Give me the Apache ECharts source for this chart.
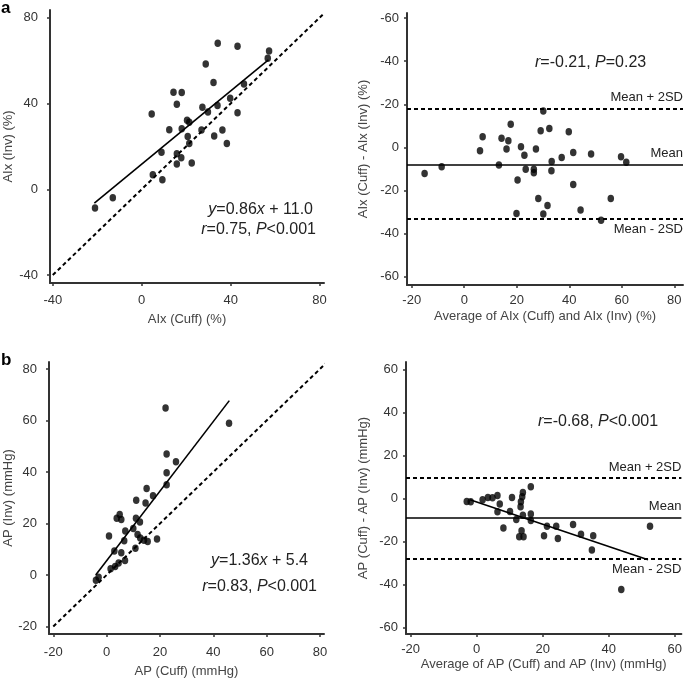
<!DOCTYPE html>
<html>
<head>
<meta charset="utf-8">
<script src="https://cdn.jsdelivr.net/npm/echarts@6/dist/echarts.min.js"></script>
<style>
html,body{margin:0;padding:0;background:#fff;}
#c{width:685px;height:679px;}
</style>
</head>
<body>
<div id="c"></div>
<script>
// ---- Data ----
const aixCuff = [-21,-13,4.5,5.0,9.3,8.9,12.4,14.3,15.8,18.0,15.8,15.8,17.8,18.0,20.4,21.4,20.7,21.4,22.5,26.9,27.3,28.8,29.8,32.3,32.6,34.2,34.1,36.3,38.3,39.8,43.1,43.1,46.0,56.7,57.3];
const aixInv  = [-8.7,-3.9,35.1,6.8,4.4,17.3,27.8,45.3,39.6,45.1,16.6,11.8,14.7,28.2,32.2,31.2,24.6,21.4,12.3,27.6,38.2,58.4,36.0,49.8,24.8,68.1,39.1,27.6,21.3,42.4,66.7,35.7,49.1,61.1,64.5];

const aixAvg  = [-15.1,-8.6,6.0,7.0,13.2,14.2,16.8,16.1,17.7,19.9,20.3,21.6,22.9,23.4,26.5,26.5,27.3,28.2,29.1,30.1,30.1,31.7,32.4,33.2,33.3,37.1,39.8,41.5,41.5,44.3,48.3,52.1,55.8,59.7,61.7];
const aixDiff = [-12.1,-9.0,-1.6,4.9,-8.2,4.2,3.1,-0.8,10.8,-30.7,-15.2,0.3,-3.6,-10.2,-10.2,-11.8,-0.8,-23.7,7.7,16.9,-30.9,-27.0,8.8,-10.8,-6.5,-4.7,7.3,-2.4,-17.2,-29.1,-3.1,-33.8,-23.7,-4.3,-6.9];

const apCuff = [-4.0,-3.0,0.9,1.5,2.9,3.2,3.8,4.5,4.9,5.5,5.5,6.6,7.0,6.9,10.0,10.8,11.1,11.0,11.6,12.5,12.6,14.0,14.6,15.0,15.4,17.4,18.9,22.1,22.5,22.5,22.5,26.0,45.9];
const apInv  = [-2.0,-0.9,15.1,2.4,9.3,3.3,22.0,4.7,23.5,21.6,8.6,13.3,17.1,5.6,18.1,10.4,29.0,22.0,15.7,20.6,14.4,13.5,28.0,33.6,13.0,30.8,14.0,64.8,47.0,39.7,35.0,44.0,58.9];

const apAvg  = [-3.0,-1.8,1.8,3.4,4.8,6.3,7.0,6.3,8.1,10.1,10.7,12.0,12.9,13.3,13.4,13.6,13.8,14.0,14.2,14.0,16.4,16.4,16.4,20.4,21.3,24.1,24.6,29.2,31.6,35.3,34.9,43.8,52.5];
const apDiff = [-1.4,-1.6,-0.6,0.4,0.3,1.4,-2.6,-6.2,-13.7,-6.1,0.4,-9.8,-17.8,-3.9,-1.6,-15.0,0.8,2.8,-17.8,-7.8,5.4,-7.2,-10.3,-17.4,-12.9,-12.9,-18.6,-12.1,-16.7,-17.3,-24.0,-42.3,-12.9];

// fitted / reference lines (end points)
const aixFitLine = [[-21.3,-6.5],[57,60.3]];
const aixIdentity = [[-40,-40],[82,82]];
const apFitLine = [[-4.1,0],[46,67.7]];
const apIdentity = [[-20,-20],[82.2,82.2]];
const apDiffFitLine = [[-2,-0.6],[51.9,-28.5]];

// Bland–Altman limits: [mean+2SD, mean, mean-2SD]
const aixLimits = [18.1,-7.9,-33.3];
const apLimits = [9.4,-8.8,-28.0];

// tick values
const ticksA = [-40,0,40,80];
const ticksBAx = [-20,0,20,40,60,80];
const ticksBAy = [-60,-40,-20,0,20,40,60];
const ticksCx = [-20,0,20,40,60,80];
const ticksCy = [-20,0,20,40,60,80];
const ticksDx = [-20,0,20,40,60];

// ---- Chart ----
const FONT = 'Liberation Sans, Arial, sans-serif';
const axisCol = '#333';
function zip(a,b){ return a.map((v,i)=>[v,b[i]]); }

function xAx(grid, min, max, ticks, name, gap, margin){
  return {
    type:'value', gridIndex:grid, min:min, max:max,
    name:name, nameLocation:'middle', nameGap:gap, nameMoveOverlap:false,
    nameTextStyle:{fontFamily:FONT,fontSize:13,color:'#444'},
    axisLine:{show:true,onZero:false,lineStyle:{color:axisCol,width:2}},
    axisTick:{show:true,inside:false,length:3,customValues:ticks,lineStyle:{color:axisCol,width:1.5}},
    axisLabel:{customValues:ticks,fontFamily:FONT,fontSize:13,color:'#333',margin:margin},
    splitLine:{show:false}
  };
}
function yAx(grid, min, max, ticks, name, gap, margin, fmt){
  return {
    type:'value', gridIndex:grid, min:min, max:max,
    name:name, nameLocation:'middle', nameGap:gap, nameRotate:90, nameMoveOverlap:false,
    nameTextStyle:{fontFamily:FONT,fontSize:13,color:'#444'},
    axisLine:{show:true,onZero:false,lineStyle:{color:axisCol,width:2}},
    axisTick:{show:true,inside:false,length:3,customValues:ticks,lineStyle:{color:axisCol,width:1.5}},
    axisLabel:{customValues:ticks,fontFamily:FONT,fontSize:13,color:'#333',margin:margin,formatter:fmt},
    splitLine:{show:false}
  };
}
function scatter(i, data){
  return {type:'scatter',xAxisIndex:i,yAxisIndex:i,data:data,symbol:'circle',symbolSize:[6.5,7.5],
    itemStyle:{color:'#000'},silent:true,z:5};
}
function line(i, data, dashed){
  return {type:'line',xAxisIndex:i,yAxisIndex:i,data:data,symbol:'none',clip:false,silent:true,
    lineStyle:{color:'#000',width:dashed?2:1.6,type:dashed?[4,3]:'solid'},z:3};
}
function limits(i, vals){
  const lbl = {fontFamily:FONT,fontSize:13,color:'#222',distance:[0,4]};
  return {type:'line',xAxisIndex:i,yAxisIndex:i,data:[],silent:true,
    markLine:{symbol:'none',silent:true,animation:false,
      data:[
        {yAxis:vals[0],lineStyle:{type:[4,3],width:2,color:'#000'},label:Object.assign({position:'insideEndTop',formatter:'Mean + 2SD'},lbl)},
        {yAxis:vals[1],lineStyle:{type:'solid',width:1.6,color:'#000'},label:Object.assign({position:'insideEndTop',formatter:'Mean'},lbl)},
        {yAxis:vals[2],lineStyle:{type:[4,3],width:2,color:'#000'},label:Object.assign({position:'insideEndBottom',formatter:'Mean - 2SD'},lbl)}
      ]}};
}
const negFmt = v => (v===0?'0':'-'+Math.abs(v));

const chart = echarts.init(document.getElementById('c'), null, {renderer:'canvas'});
const ann = (x,y,rt,align) => ({type:'text',x:x,y:y,silent:true,
  style:{text:rt,x:0,y:0,align:align||'left',verticalAlign:'middle',fontFamily:FONT,fontSize:16,fill:'#222',
    rich:{i:{fontStyle:'italic',fontFamily:FONT,fontSize:16,fill:'#222'},n:{fontFamily:FONT,fontSize:16,fill:'#222'}}}});

chart.setOption({
  animation:false,
  backgroundColor:'#fff',
  grid:[
    {left:50,top:10,width:274,height:273},
    {left:407,top:13,width:276,height:272},
    {left:49,top:362,width:275,height:272},
    {left:406,top:362,width:277,height:272}
  ],
  xAxis:[
    xAx(0,-41.25,82,ticksA,'AIx (Cuff) (%)',30,11),
    xAx(1,-21.8,83.3,ticksBAx,'Average of AIx (Cuff) and AIx (Inv) (%)',25,9),
    xAx(2,-21.6,81.5,ticksCx,'AP (Cuff) (mmHg)',31,12),
    xAx(3,-21.4,62,ticksDx,'Average of AP (Cuff) and AP (Inv) (mmHg)',24,9)
  ],
  yAxis:[
    yAx(0,-43.7,83.6,ticksA,'AIx (Inv) (%)',35,12),
    yAx(1,-63.9,62.4,ticksBAy,'AIx (Cuff) - AIx (Inv) (%)',37,8,negFmt),
    yAx(2,-22.9,82.7,ticksCy,'AP (Inv) (mmHg)',34,12),
    yAx(3,-63,63.4,ticksBAy,'AP (Cuff) - AP (Inv) (mmHg)',36,8)
  ],
  graphic:[
    {type:'text',x:1,y:0,silent:true,style:{text:'a',fontFamily:FONT,fontSize:17,fontWeight:'bold',fill:'#000'}},
    {type:'text',x:1,y:352,silent:true,style:{text:'b',fontFamily:FONT,fontSize:17,fontWeight:'bold',fill:'#000'}},
    ann(313,210,'{i|y}{n|=0.86}{i|x}{n| + 11.0}','right'),
    ann(316,230,'{i|r}{n|=0.75, }{i|P}{n|<0.001}','right'),
    ann(535,63,'{i|r}{n|=-0.21, }{i|P}{n|=0.23}','left'),
    ann(308,561,'{i|y}{n|=1.36}{i|x}{n| + 5.4}','right'),
    ann(317,587,'{i|r}{n|=0.83, }{i|P}{n|<0.001}','right'),
    ann(538,422,'{i|r}{n|=-0.68, }{i|P}{n|<0.001}','left')
  ],
  series:[
    line(0,aixIdentity,true),
    line(0,aixFitLine,false),
    scatter(0,zip(aixCuff,aixInv)),
    limits(1,aixLimits),
    scatter(1,zip(aixAvg,aixDiff)),
    line(2,apIdentity,true),
    line(2,apFitLine,false),
    scatter(2,zip(apCuff,apInv)),
    limits(3,apLimits),
    line(3,apDiffFitLine,false),
    scatter(3,zip(apAvg,apDiff))
  ]
});
</script>
</body>
</html>
